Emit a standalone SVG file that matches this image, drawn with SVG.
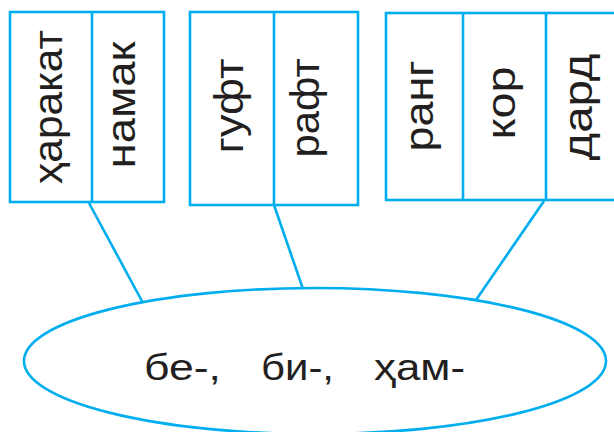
<svg xmlns="http://www.w3.org/2000/svg" width="614" height="432" viewBox="0 0 614 432">
<style>
.b{fill:none;stroke:#00aeef;stroke-width:2.6}
.t{font-family:"Liberation Sans",Arial,sans-serif;font-size:40px;fill:#231f20;text-anchor:middle}
.m{font-family:"Liberation Sans",Arial,sans-serif;font-size:37px;fill:#231f20}
</style>
<rect width="614" height="432" fill="#fff"/>
<g id="connectors" class="b">
<line x1="89" y1="203" x2="143" y2="303"/>
<line x1="274" y1="205" x2="303" y2="289"/>
<line x1="544" y1="201" x2="476" y2="300"/>
</g>
<g id="box1">
<rect class="b" x="10" y="12" width="154" height="190"/>
<line class="b" x1="92" y1="12" x2="92" y2="202"/>
<text class="t" transform="translate(62,107) rotate(-90)" textLength="154" lengthAdjust="spacingAndGlyphs">ҳаракат</text>
<text class="t" transform="translate(135,105) rotate(-90)" textLength="127" lengthAdjust="spacingAndGlyphs">намак</text>
</g>
<g id="box2">
<rect class="b" x="190" y="12" width="168" height="193"/>
<line class="b" x1="274" y1="12" x2="274" y2="205"/>
<text class="t" transform="translate(243,106) rotate(-90)" textLength="95" lengthAdjust="spacingAndGlyphs">гуфт</text>
<text class="t" transform="translate(319,108) rotate(-90)" textLength="99" lengthAdjust="spacingAndGlyphs">рафт</text>
</g>
<g id="box3">
<rect class="b" x="386" y="13" width="232" height="187"/>
<line class="b" x1="463" y1="13" x2="463" y2="200"/>
<line class="b" x1="546" y1="13" x2="546" y2="200"/>
<text class="t" transform="translate(433,106) rotate(-90)" textLength="91" lengthAdjust="spacingAndGlyphs">ранг</text>
<text class="t" transform="translate(515,103) rotate(-90)" textLength="73" lengthAdjust="spacingAndGlyphs">кор</text>
<text class="t" transform="translate(592,107) rotate(-90)" textLength="107" lengthAdjust="spacingAndGlyphs">дард</text>
</g>
<g id="center">
<ellipse class="b" cx="315" cy="361" rx="291" ry="73"/>
<text class="m" y="380"><tspan x="144" textLength="77" lengthAdjust="spacingAndGlyphs">бе-,</tspan><tspan x="261" textLength="73" lengthAdjust="spacingAndGlyphs">би-,</tspan><tspan x="374" textLength="91" lengthAdjust="spacingAndGlyphs">ҳам-</tspan></text>
</g>
</svg>
